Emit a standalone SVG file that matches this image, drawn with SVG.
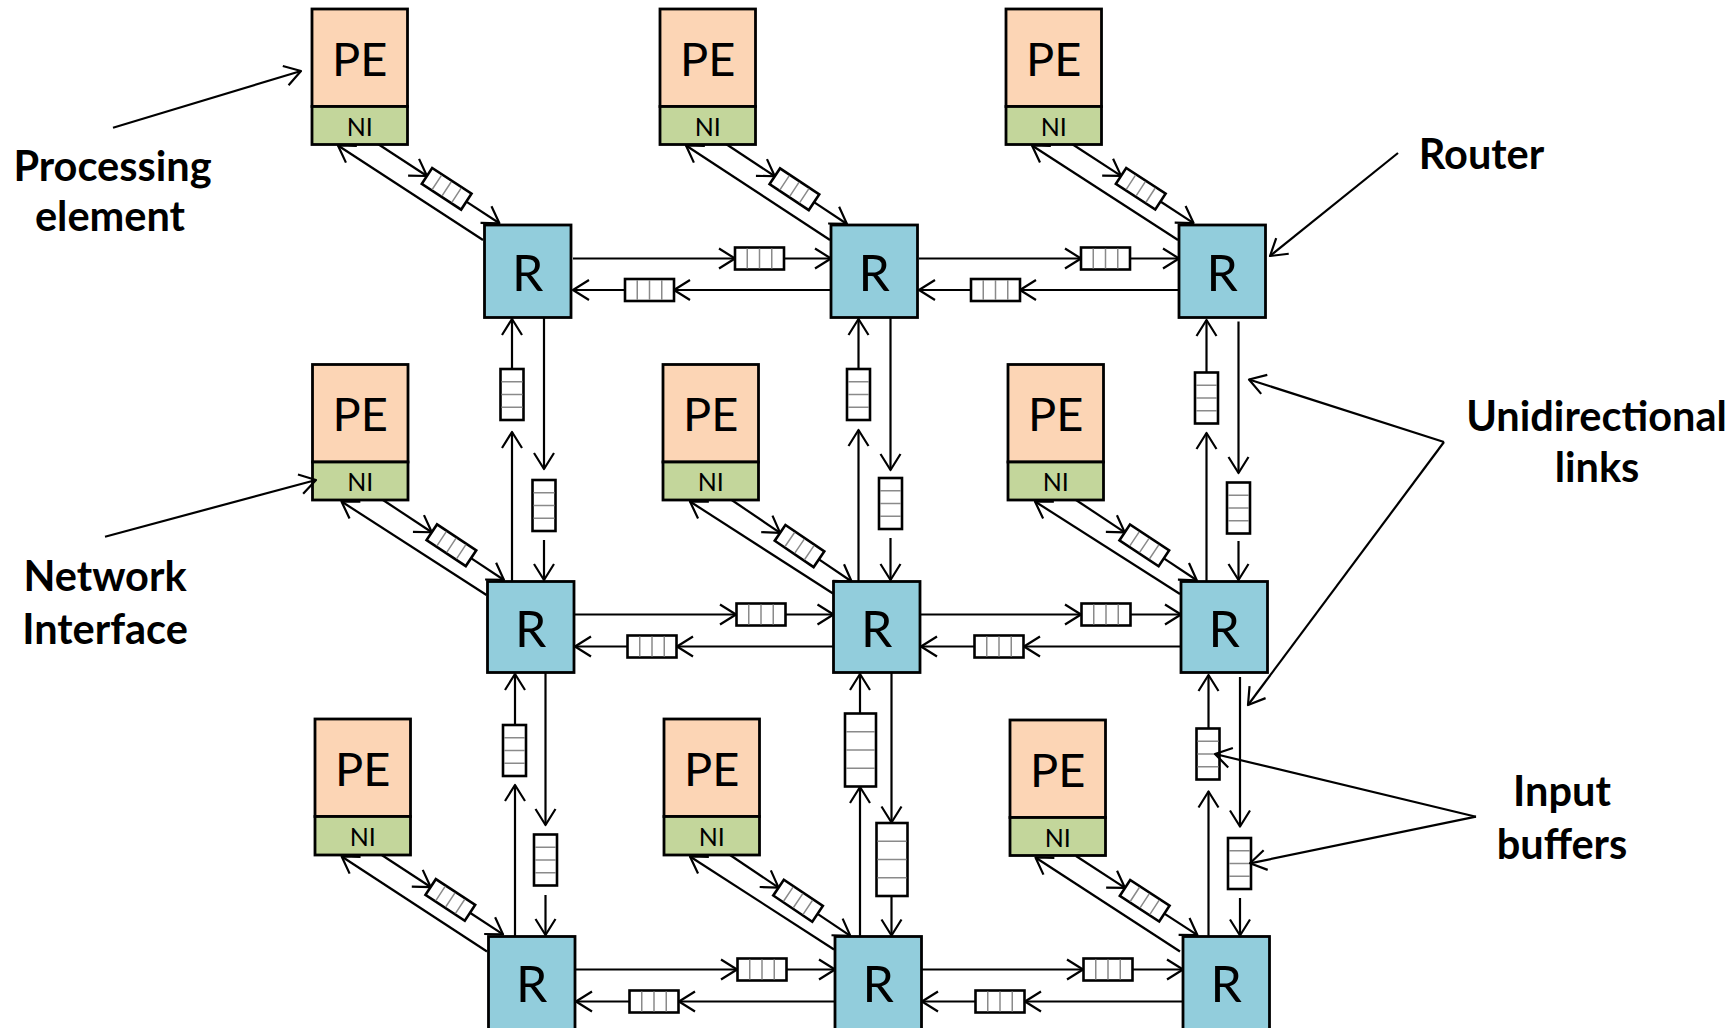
<svg xmlns="http://www.w3.org/2000/svg" xmlns:xlink="http://www.w3.org/1999/xlink" width="1735" height="1028" viewBox="0 0 1735 1028">
  <style>
    .pe{fill:#FCD5B5;stroke:#000;stroke-width:2.8}
    .ni{fill:#C3D69B;stroke:#000;stroke-width:2.8}
    .rt{fill:#92CDDC;stroke:#000;stroke-width:2.8}
    .buf{fill:#fff;stroke:#000;stroke-width:2.6}
    .cell{fill:none;stroke:#8a8a8a;stroke-width:1.5}
    .ln{fill:none;stroke:#000;stroke-width:2.2;marker-end:url(#ah)}
    .t{font-family:Lato,"Liberation Sans",sans-serif;fill:#000;text-anchor:middle}
    .tpe{font-size:47px}
    .tni{font-size:25px}
    .tr{font-size:50px}
    .lab{font-family:Lato,"Liberation Sans",sans-serif;font-weight:700;font-size:41.5px;fill:#000;text-anchor:middle}
  </style>
  <defs>
    <!-- open V arrowhead -->
    <marker id="ah" markerUnits="userSpaceOnUse" viewBox="-20 -20 40 40" markerWidth="40" markerHeight="40" refX="0" refY="0" orient="auto" overflow="visible">
      <path d="M-16,-10 L0,0 L-16,10" fill="none" stroke="#000" stroke-width="2.2" stroke-linejoin="round"/>
    </marker>
    <!-- 4-slot input buffers -->
    <g id="hb">
      <rect class="buf" x="-24.5" y="-11" width="49" height="22"/>
      <path class="cell" d="M-12.25,-10V10M0,-10V10M12.25,-10V10"/>
    </g>
    <g id="vb">
      <rect class="buf" x="-11.5" y="-25.5" width="23" height="51"/>
      <path class="cell" d="M-10.5,-12.75H10.5M-10.5,0H10.5M-10.5,12.75H10.5"/>
    </g>
    <g id="vbl">
      <rect class="buf" x="-15.5" y="-36.5" width="31" height="73"/>
      <path class="cell" d="M-14.5,-18.25H14.5M-14.5,0H14.5M-14.5,18.25H14.5"/>
    </g>
    <g id="db">
      <rect class="buf" x="-23.5" y="-9.5" width="47" height="19"/>
      <path class="cell" d="M-11.75,-8.5V8.5M0,-8.5V8.5M11.75,-8.5V8.5"/>
    </g>
    <!-- NI to router link with its buffer, drawn along +x -->
    <g id="dl">
      <line class="ln" x1="0" y1="0" x2="58.5" y2="0"/>
      <use xlink:href="#db" href="#db" transform="translate(82,0)"/>
      <line class="ln" x1="105.5" y1="0" x2="145" y2="0"/>
    </g>
  </defs>

  <rect width="1735" height="1028" fill="#fff"/>

  <!-- links -->
  <g id="connectors">
    <!-- row 1 horizontal -->
    <line class="ln" x1="573" y1="258.5" x2="735" y2="258.5"/>
    <use href="#hb" transform="translate(759.5,258.5)"/>
    <line class="ln" x1="784" y1="258.5" x2="831" y2="258.5"/>
    <line class="ln" x1="831" y1="290" x2="674" y2="290"/>
    <use href="#hb" transform="translate(649.5,290)"/>
    <line class="ln" x1="625" y1="290" x2="573" y2="290"/>
    <line class="ln" x1="919" y1="258.5" x2="1081" y2="258.5"/>
    <use href="#hb" transform="translate(1105.5,258.5)"/>
    <line class="ln" x1="1130" y1="258.5" x2="1179" y2="258.5"/>
    <line class="ln" x1="1179" y1="290" x2="1020" y2="290"/>
    <use href="#hb" transform="translate(995.5,290)"/>
    <line class="ln" x1="971" y1="290" x2="919" y2="290"/>

    <!-- row 2 horizontal -->
    <line class="ln" x1="575" y1="614.5" x2="736" y2="614.5"/>
    <use href="#hb" transform="translate(761,614.5)"/>
    <line class="ln" x1="786" y1="614.5" x2="833.5" y2="614.5"/>
    <line class="ln" x1="833.5" y1="646.5" x2="677" y2="646.5"/>
    <use href="#hb" transform="translate(652,646.5)"/>
    <line class="ln" x1="627" y1="646.5" x2="575" y2="646.5"/>
    <line class="ln" x1="921" y1="614.5" x2="1081" y2="614.5"/>
    <use href="#hb" transform="translate(1106,614.5)"/>
    <line class="ln" x1="1131" y1="614.5" x2="1181" y2="614.5"/>
    <line class="ln" x1="1181" y1="646.5" x2="1024" y2="646.5"/>
    <use href="#hb" transform="translate(999,646.5)"/>
    <line class="ln" x1="974" y1="646.5" x2="921" y2="646.5"/>

    <!-- row 3 horizontal -->
    <line class="ln" x1="576" y1="969.5" x2="737" y2="969.5"/>
    <use href="#hb" transform="translate(762,969.5)"/>
    <line class="ln" x1="787" y1="969.5" x2="835" y2="969.5"/>
    <line class="ln" x1="835" y1="1001.5" x2="679" y2="1001.5"/>
    <use href="#hb" transform="translate(654,1001.5)"/>
    <line class="ln" x1="629" y1="1001.5" x2="576" y2="1001.5"/>
    <line class="ln" x1="922" y1="969.5" x2="1083" y2="969.5"/>
    <use href="#hb" transform="translate(1108,969.5)"/>
    <line class="ln" x1="1133" y1="969.5" x2="1183" y2="969.5"/>
    <line class="ln" x1="1183" y1="1001.5" x2="1025" y2="1001.5"/>
    <use href="#hb" transform="translate(1000,1001.5)"/>
    <line class="ln" x1="975" y1="1001.5" x2="922" y2="1001.5"/>

    <!-- column 1 vertical -->
    <line class="ln" x1="512" y1="581" x2="512" y2="432"/>
    <use href="#vb" transform="translate(512,394.5)"/>
    <line class="ln" x1="512" y1="369" x2="512" y2="319"/>
    <line class="ln" x1="544" y1="318" x2="544" y2="469"/>
    <use href="#vb" transform="translate(544,505.5)"/>
    <line class="ln" x1="544" y1="540" x2="544" y2="580"/>
    <line class="ln" x1="515" y1="936" x2="515" y2="785"/>
    <use href="#vb" transform="translate(514.5,750.5)"/>
    <line class="ln" x1="515" y1="725" x2="515" y2="674"/>
    <line class="ln" x1="545.5" y1="673" x2="545.5" y2="825"/>
    <use href="#vb" transform="translate(545.5,860)"/>
    <line class="ln" x1="545.5" y1="895" x2="545.5" y2="935"/>

    <!-- column 2 vertical -->
    <line class="ln" x1="858.5" y1="581" x2="858.5" y2="430"/>
    <use href="#vb" transform="translate(858.5,394.5)"/>
    <line class="ln" x1="858.5" y1="369" x2="858.5" y2="319"/>
    <line class="ln" x1="890.5" y1="318" x2="890.5" y2="470"/>
    <use href="#vb" transform="translate(890.5,503.5)"/>
    <line class="ln" x1="890.5" y1="538" x2="890.5" y2="580"/>
    <line class="ln" x1="860" y1="936" x2="860" y2="787"/>
    <use href="#vbl" transform="translate(860.5,750)"/>
    <line class="ln" x1="860" y1="713.5" x2="860" y2="674"/>
    <line class="ln" x1="891.5" y1="673" x2="891.5" y2="822.5"/>
    <use href="#vbl" transform="translate(892,859.5)"/>
    <line class="ln" x1="891.5" y1="896" x2="891.5" y2="935.5"/>

    <!-- column 3 vertical -->
    <line class="ln" x1="1206.5" y1="581" x2="1206.5" y2="433"/>
    <use href="#vb" transform="translate(1206.5,398)"/>
    <line class="ln" x1="1206.5" y1="372.5" x2="1206.5" y2="320"/>
    <line class="ln" x1="1238.5" y1="321.5" x2="1238.5" y2="473"/>
    <use href="#vb" transform="translate(1238.5,508)"/>
    <line class="ln" x1="1238.5" y1="541" x2="1238.5" y2="580"/>
    <line class="ln" x1="1208.5" y1="936" x2="1208.5" y2="791.5"/>
    <use href="#vb" transform="translate(1208,754)"/>
    <line class="ln" x1="1208.5" y1="728.5" x2="1208.5" y2="675"/>
    <line class="ln" x1="1240" y1="677" x2="1240" y2="826.5"/>
    <use href="#vb" transform="translate(1239.5,863.5)"/>
    <line class="ln" x1="1240" y1="898" x2="1240" y2="935.5"/>

    <!-- NI to router (buffered) -->
    <use href="#dl" transform="translate(378,144) rotate(33.15)"/>
    <use href="#dl" transform="translate(726,144) rotate(33.47)"/>
    <use href="#dl" transform="translate(1072,144) rotate(33.04)"/>
    <use href="#dl" transform="translate(383,500) rotate(33.47)"/>
    <use href="#dl" transform="translate(731.7,500) rotate(34.2)"/>
    <use href="#dl" transform="translate(1076,500) rotate(33.6)"/>
    <use href="#dl" transform="translate(381.7,855) rotate(33.2)"/>
    <use href="#dl" transform="translate(730,855) rotate(33.9)"/>
    <use href="#dl" transform="translate(1076,856) rotate(33.1)"/>

    <!-- router to NI -->
    <line class="ln" x1="483" y1="240" x2="338" y2="145.5"/>
    <line class="ln" x1="830" y1="240" x2="686" y2="145.5"/>
    <line class="ln" x1="1178" y1="240" x2="1032" y2="145.5"/>
    <line class="ln" x1="486.5" y1="595" x2="341.5" y2="501.5"/>
    <line class="ln" x1="833" y1="593.5" x2="690" y2="501.5"/>
    <line class="ln" x1="1180" y1="594" x2="1035" y2="501.5"/>
    <line class="ln" x1="487" y1="951.5" x2="341.7" y2="856.5"/>
    <line class="ln" x1="834" y1="949.5" x2="690" y2="856.5"/>
    <line class="ln" x1="1180" y1="951.5" x2="1035.5" y2="857.5"/>
  </g>

  <!-- processing elements with network interfaces -->
  <g id="pe11"><rect class="pe" x="312" y="9" width="95.5" height="97.5"/><rect class="ni" x="312" y="106.5" width="95.5" height="38"/><text class="t tpe" x="359.75" y="75.5">PE</text><text class="t tni" x="359.75" y="135.5">NI</text></g>
  <g id="pe12"><rect class="pe" x="660" y="9" width="95.5" height="97.5"/><rect class="ni" x="660" y="106.5" width="95.5" height="38"/><text class="t tpe" x="707.75" y="75.5">PE</text><text class="t tni" x="707.75" y="135.5">NI</text></g>
  <g id="pe13"><rect class="pe" x="1006" y="9" width="95.5" height="97.5"/><rect class="ni" x="1006" y="106.5" width="95.5" height="38"/><text class="t tpe" x="1053.75" y="75.5">PE</text><text class="t tni" x="1053.75" y="135.5">NI</text></g>
  <g id="pe21"><rect class="pe" x="312.5" y="364.5" width="95.5" height="97.5"/><rect class="ni" x="312.5" y="462" width="95.5" height="38"/><text class="t tpe" x="360.25" y="431">PE</text><text class="t tni" x="360.25" y="491">NI</text></g>
  <g id="pe22"><rect class="pe" x="663" y="364.5" width="95.5" height="97.5"/><rect class="ni" x="663" y="462" width="95.5" height="38"/><text class="t tpe" x="710.75" y="431">PE</text><text class="t tni" x="710.75" y="491">NI</text></g>
  <g id="pe23"><rect class="pe" x="1008" y="364.5" width="95.5" height="97.5"/><rect class="ni" x="1008" y="462" width="95.5" height="38"/><text class="t tpe" x="1055.75" y="431">PE</text><text class="t tni" x="1055.75" y="491">NI</text></g>
  <g id="pe31"><rect class="pe" x="315" y="719" width="95.5" height="97.5"/><rect class="ni" x="315" y="816.5" width="95.5" height="38.5"/><text class="t tpe" x="362.75" y="785.5">PE</text><text class="t tni" x="362.75" y="846">NI</text></g>
  <g id="pe32"><rect class="pe" x="664" y="719" width="95.5" height="97.5"/><rect class="ni" x="664" y="816.5" width="95.5" height="38.5"/><text class="t tpe" x="711.75" y="785.5">PE</text><text class="t tni" x="711.75" y="846">NI</text></g>
  <g id="pe33"><rect class="pe" x="1010" y="720" width="95.5" height="97.5"/><rect class="ni" x="1010" y="817.5" width="95.5" height="38"/><text class="t tpe" x="1057.75" y="786.5">PE</text><text class="t tni" x="1057.75" y="846.5">NI</text></g>

  <!-- routers -->
  <g id="r11"><rect class="rt" x="484.5" y="225" width="86.5" height="92.5"/><text class="t tr" x="527.75" y="291">R</text></g>
  <g id="r12"><rect class="rt" x="831" y="225" width="86.5" height="92.5"/><text class="t tr" x="874.25" y="291">R</text></g>
  <g id="r13"><rect class="rt" x="1179" y="225" width="86.5" height="92.5"/><text class="t tr" x="1222.25" y="291">R</text></g>
  <g id="r21"><rect class="rt" x="487.5" y="581.5" width="86.5" height="91"/><text class="t tr" x="530.75" y="647">R</text></g>
  <g id="r22"><rect class="rt" x="833.5" y="581.5" width="86.5" height="91"/><text class="t tr" x="876.75" y="647">R</text></g>
  <g id="r23"><rect class="rt" x="1181" y="581.5" width="86.5" height="91"/><text class="t tr" x="1224.25" y="647">R</text></g>
  <g id="r31"><rect class="rt" x="488.5" y="936.5" width="86.5" height="96"/><text class="t tr" x="531.75" y="1002">R</text></g>
  <g id="r32"><rect class="rt" x="835" y="936.5" width="86.5" height="96"/><text class="t tr" x="878.25" y="1002">R</text></g>
  <g id="r33"><rect class="rt" x="1183" y="936.5" width="86.5" height="96"/><text class="t tr" x="1226.25" y="1002">R</text></g>

  <!-- callouts -->
  <g id="callouts">
    <line class="ln" x1="113" y1="127.7" x2="301" y2="71"/>
    <text class="lab" x="112.5" y="181">Processing</text>
    <text class="lab" x="110" y="231">element</text>

    <line class="ln" x1="105" y1="536.7" x2="316" y2="480"/>
    <text class="lab" x="105" y="590.5">Network</text>
    <text class="lab" x="105" y="643.5">Interface</text>

    <line class="ln" x1="1398" y1="153" x2="1270" y2="256"/>
    <text class="lab" x="1481.5" y="169">Router</text>

    <line class="ln" x1="1444" y1="442" x2="1249" y2="379.5"/>
    <line class="ln" x1="1444" y1="442" x2="1248" y2="705"/>
    <text class="lab" x="1596.5" y="430.5">Unidirectional</text>
    <text class="lab" x="1597" y="482">links</text>

    <line class="ln" x1="1476" y1="816.7" x2="1215" y2="754"/>
    <line class="ln" x1="1476" y1="816.7" x2="1250" y2="863.3"/>
    <text class="lab" x="1562" y="805.5">Input</text>
    <text class="lab" x="1562" y="858.5">buffers</text>
  </g>
</svg>
